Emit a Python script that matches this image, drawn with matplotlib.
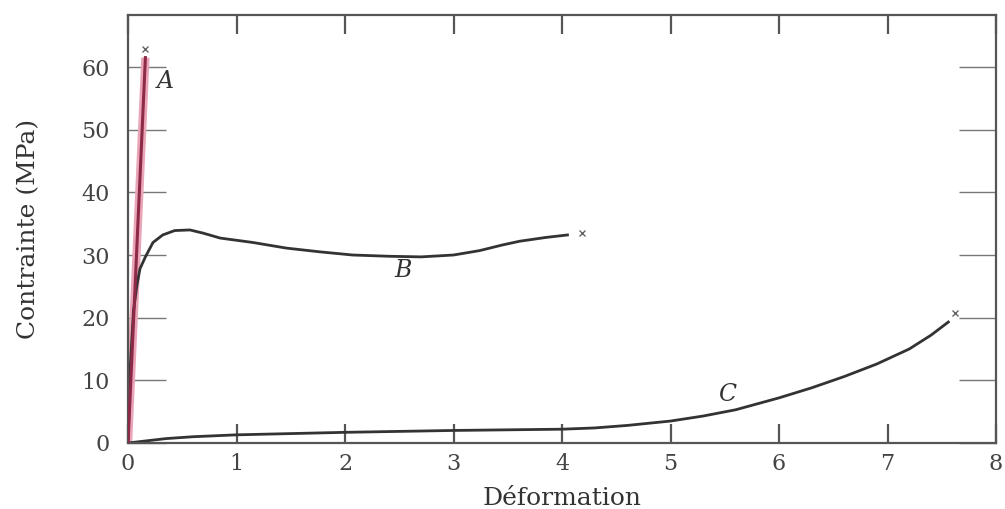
import numpy as np
import matplotlib
matplotlib.use("Agg")
import matplotlib.pyplot as plt

# values
a_x = [0.0, 0.16]
a_y = [0.0, 61.5]
a_break = (0.16, 62.8)

b_x = [0.0, 0.02, 0.05, 0.08, 0.11, 0.16, 0.23, 0.32, 0.43, 0.57, 0.69, 0.85,
       1.15, 1.46, 1.77, 2.07, 2.4, 2.7, 3.0, 3.24, 3.45, 3.61, 3.85, 4.05]
b_y = [0.0, 12.0, 21.0, 25.0, 27.8, 29.7, 32.0, 33.2, 33.9, 34.0, 33.5, 32.7,
       32.0, 31.1, 30.5, 30.0, 29.8, 29.7, 30.0, 30.7, 31.6, 32.2, 32.8, 33.2]
b_break = (4.18, 33.5)

c_x = [0.0, 0.15, 0.35, 0.6, 1.0, 1.5, 2.0, 3.0, 4.0, 4.3, 4.6, 5.0, 5.3, 5.6,
       6.0, 6.3, 6.6, 6.9, 7.2, 7.4, 7.56]
c_y = [0.0, 0.3, 0.7, 1.0, 1.3, 1.5, 1.7, 2.0, 2.2, 2.4, 2.8, 3.5, 4.3, 5.3,
       7.2, 8.8, 10.6, 12.6, 15.0, 17.2, 19.3]
c_break = (7.62, 20.7)

labels = ["A", "B", "C"]
label_pos = [(0.34, 57.7), (2.53, 27.5), (5.52, 7.7)]

x_ticks = list(range(0, 9))
y_ticks = list(range(0, 61, 10))

plt.rcParams['font.family'] = ['DejaVu Serif']

fig = plt.figure(figsize=(10.05, 5.09), dpi=100)
ax = fig.add_axes([0.1274, 0.1297, 0.8637, 0.8408])

# curve A: reddish line with pink halo
ax.plot(a_x, a_y, color='#eaa6b8', lw=6, solid_capstyle='butt', zorder=2)
ax.plot(a_x, a_y, color='#8c2a48', lw=2.2, zorder=3)
ax.plot(b_x, b_y, color='#333333', lw=2.0, solid_joinstyle='round', zorder=2)
ax.plot(c_x, c_y, color='#333333', lw=2.0, solid_joinstyle='round', zorder=2)

for px, py in [a_break, b_break, c_break]:
    ax.plot(px, py, marker='x', color='#666666', ms=5, mew=1.0, zorder=4)

for lab, (lx, ly) in zip(labels, label_pos):
    ax.text(lx, ly, lab, fontsize=17, style='italic', color='#333333',
            ha='center', va='center')

ax.set_xlim(0, 8)
ax.set_ylim(0, 68.3)
ax.set_xticks(x_ticks)
ax.set_yticks(y_ticks)

ax.tick_params(axis='x', direction='in', length=14, width=1.6, color='#555555',
               top=True, labelsize=16, labelcolor='#444444', pad=7)
ax.tick_params(axis='y', direction='in', length=27, width=1.0, color='#777777',
               right=True, labelsize=16, labelcolor='#444444', pad=13)

for s in ax.spines.values():
    s.set_color('#555555')
    s.set_linewidth(1.6)

ax.set_xlabel("Déformation", fontsize=18, color='#333333', labelpad=9)
ax.set_ylabel("Contrainte (MPa)", fontsize=18, color='#333333', labelpad=30)

fig.savefig("out.png", dpi=100)
